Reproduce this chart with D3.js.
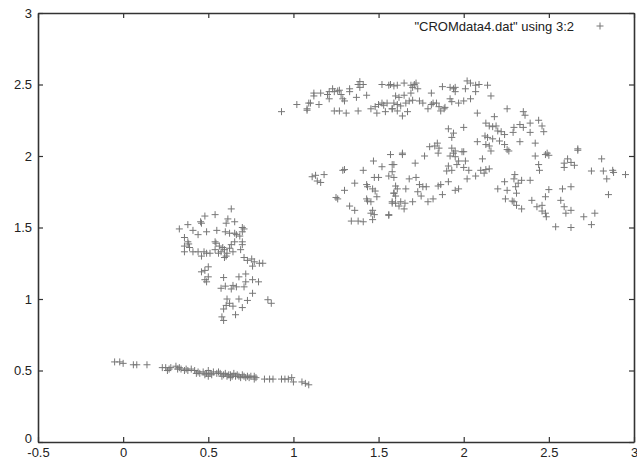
<!DOCTYPE html>
<html>
<head>
<meta charset="utf-8">
<script src="https://cdn.jsdelivr.net/npm/d3@7"></script>
<style>
  body { margin: 0; background: #fff; }
  .chart text { font-family: "Liberation Sans", Arial, sans-serif; font-size: 13px; fill: #222; }
</style>
</head>
<body>
<div class="chart"></div>
<script>
var svgWidth = 637;
var svgHeight = 466;

var seriesLabel = "\"CROMdata4.dat\" using 3:2";
var xTicks = [-0.5, 0, 0.5, 1, 1.5, 2, 2.5, 3];
var yTicks = [0, 0.5, 1, 1.5, 2, 2.5, 3];

// column 3 vs column 2
var bottomStrip = [
  [-0.05,0.56],[-0.02,0.56],[0.0,0.55],[0.06,0.54],[0.08,0.54],[0.14,0.54],
  [0.23,0.52],[0.25,0.52],[0.26,0.50],[0.27,0.51],[0.28,0.52],[0.31,0.53],[0.32,0.51],[0.33,0.52],
  [0.34,0.51],[0.36,0.50],[0.37,0.51],[0.38,0.50],[0.40,0.51],[0.42,0.50],[0.43,0.48],[0.44,0.49],
  [0.45,0.48],[0.47,0.49],[0.48,0.47],[0.49,0.48],[0.50,0.50],[0.50,0.46],[0.51,0.48],[0.52,0.47],
  [0.53,0.49],[0.55,0.48],[0.56,0.49],[0.57,0.48],[0.58,0.46],[0.59,0.47],[0.60,0.48],[0.61,0.46],
  [0.62,0.47],[0.63,0.47],[0.63,0.45],[0.64,0.46],[0.65,0.48],[0.66,0.46],[0.67,0.47],[0.68,0.46],
  [0.69,0.45],[0.70,0.47],[0.71,0.46],[0.72,0.45],[0.73,0.46],[0.74,0.45],[0.75,0.46],[0.77,0.44],
  [0.77,0.46],[0.78,0.45],[0.83,0.44],[0.86,0.44],[0.88,0.44],[0.93,0.44],[0.95,0.44],[0.97,0.44],
  [0.99,0.45],[1.00,0.42],[1.05,0.42],[1.07,0.41],[1.09,0.40]
];

var middleBlob = [
  [0.635,1.63],[0.54,1.59],[0.48,1.58],[0.455,1.54],[0.46,1.53],[0.38,1.52],[0.33,1.49],[0.41,1.48],
  [0.44,1.45],[0.49,1.47],[0.55,1.48],[0.60,1.47],[0.615,1.56],[0.655,1.54],[0.605,1.53],[0.70,1.50],
  [0.70,1.47],[0.71,1.49],[0.625,1.46],[0.655,1.46],[0.665,1.45],[0.685,1.44],[0.70,1.40],[0.70,1.38],
  [0.69,1.345],[0.36,1.43],[0.38,1.40],[0.385,1.385],[0.36,1.33],[0.41,1.33],[0.44,1.33],[0.475,1.33],
  [0.46,1.30],[0.49,1.32],[0.51,1.32],[0.54,1.345],[0.56,1.32],[0.575,1.33],[0.595,1.345],[0.625,1.355],
  [0.635,1.38],[0.655,1.40],[0.645,1.33],[0.61,1.32],[0.595,1.29],[0.605,1.30],[0.54,1.40],[0.545,1.39],
  [0.565,1.37],[0.585,1.36],[0.71,1.29],[0.73,1.27],[0.755,1.28],[0.77,1.26],[0.80,1.25],[0.82,1.25],
  [0.76,1.23],[0.50,1.225],[0.48,1.20],[0.46,1.19],[0.50,1.155],[0.48,1.135],[0.49,1.12],[0.59,1.15],
  [0.575,1.075],[0.60,1.09],[0.635,1.07],[0.645,1.095],[0.665,1.085],[0.68,1.155],[0.72,1.175],[0.72,1.12],
  [0.71,1.085],[0.76,1.135],[0.795,1.12],[0.76,1.04],[0.61,1.00],[0.625,0.97],[0.605,0.955],[0.59,0.93],
  [0.645,0.95],[0.68,1.00],[0.70,0.94],[0.73,0.99],[0.66,0.89],[0.58,0.875],[0.59,0.85],[0.85,0.995],
  [0.87,0.97],[0.36,1.37],[0.39,1.36]
];

var upperArch = [
  [0.93,2.31],[1.02,2.36],[1.08,2.33],[1.08,2.32],[1.09,2.37],[1.10,2.37],[1.15,2.36],[1.12,2.44],
  [1.12,2.42],[1.16,2.44],[1.20,2.43],[1.21,2.45],[1.21,2.40],[1.23,2.47],[1.24,2.45],[1.26,2.455],
  [1.27,2.46],[1.28,2.43],[1.29,2.40],[1.30,2.385],[1.33,2.47],[1.33,2.45],[1.37,2.41],[1.39,2.52],
  [1.38,2.50],[1.39,2.48],[1.41,2.50],[1.43,2.425],[1.38,2.315],[1.24,2.315],[1.27,2.315],[1.31,2.30],
  [1.455,2.33],[1.48,2.345],[1.49,2.30],[1.50,2.36],[1.52,2.37],[1.53,2.355],[1.54,2.31],[1.55,2.37],
  [1.52,2.50],[1.56,2.495],[1.58,2.33],
  [1.57,2.50],[1.59,2.49],[1.61,2.495],[1.65,2.51],[1.69,2.495],[1.70,2.48],[1.71,2.50],[1.72,2.51],
  [1.73,2.47],[1.69,2.44],[1.60,2.42],[1.62,2.41],[1.65,2.425],[1.59,2.37],[1.61,2.36],[1.63,2.35],
  [1.66,2.37],[1.68,2.385],[1.70,2.39],[1.74,2.385],[1.76,2.37],[1.58,2.33],[1.61,2.315],[1.64,2.28],
  [1.67,2.31],[1.79,2.33],[1.81,2.36],[1.82,2.37],[1.84,2.37],[1.855,2.345],[1.865,2.315],[1.885,2.33],
  [1.89,2.34],[1.92,2.40],[1.93,2.38],[1.97,2.37],[2.00,2.385],[2.04,2.40],[1.81,2.44],[1.875,2.485],
  [1.92,2.48],[1.94,2.47],[1.95,2.45],[1.95,2.48],[2.01,2.47],[2.02,2.525],[2.04,2.51],[2.07,2.495],
  [2.09,2.50],[2.07,2.45],[2.14,2.495],[2.16,2.42],[2.08,2.30],[2.18,2.275],[2.255,2.33]
];

var rightSlope = [
  [2.13,2.23],[2.15,2.21],[2.17,2.205],[2.19,2.21],[2.20,2.175],[2.22,2.17],[2.24,2.15],[1.91,2.19],
  [1.94,2.16],[2.00,2.20],[1.93,2.13],[2.125,2.14],[2.14,2.13],[2.17,2.12],[2.21,2.105],[2.08,2.10],
  [2.13,2.08],[2.15,2.07],[2.24,2.08],[2.255,2.045],[1.80,2.065],[1.83,2.07],[1.845,2.09],[1.855,2.055],
  [1.93,2.055],[1.95,2.035],[1.99,2.03],[1.64,2.02],
  [2.35,2.31],[2.36,2.285],[2.295,2.20],[2.29,2.165],[2.33,2.22],[2.35,2.20],[2.39,2.23],[2.44,2.25],
  [2.46,2.21],[2.47,2.17],[2.39,2.165],[2.33,2.10],[2.42,2.09],[2.49,2.02],[2.67,2.05]
];

var lowerBand = [
  [1.11,1.855],[1.13,1.865],[1.14,1.825],[1.16,1.815],[1.18,1.87],[1.29,1.90],[1.30,1.905],[1.41,1.90],
  [1.47,1.965],[1.52,1.925],[1.57,2.01],[1.58,1.94],[1.56,1.86],[1.475,1.85],[1.50,1.85],[1.36,1.81],
  [1.43,1.80],[1.435,1.785],[1.465,1.77],[1.48,1.755],[1.30,1.76],[1.49,1.715],[1.25,1.71],[1.26,1.70],
  [1.43,1.70],[1.435,1.685],[1.455,1.68],[1.33,1.65],[1.36,1.62],[1.465,1.62],[1.455,1.60],[1.475,1.59],
  [1.56,1.585],[1.58,1.67],[1.34,1.545],[1.38,1.545],[1.41,1.54],[1.465,1.555],[1.59,1.74],
  [1.64,2.01],[1.77,2.00],[1.85,2.02],[1.92,2.00],[1.94,2.02],[1.95,1.995],[1.97,1.965],[1.96,1.94],
  [2.00,2.03],[2.01,1.965],[2.00,1.92],[1.91,1.93],[1.93,1.90],[1.90,1.895],[2.03,1.90],[2.11,1.98],
  [2.10,1.90],[2.13,1.905],[2.15,1.91],[2.12,1.88],[2.07,1.86],[2.02,1.84],[1.59,1.94],[1.715,1.95],
  [1.58,1.89],[1.59,1.85],[1.68,1.84],[1.72,1.85],[1.74,1.80],[1.76,1.785],[1.78,1.785],[1.60,1.79],
  [1.61,1.77],[1.66,1.77],[1.59,1.74],[1.60,1.72],[1.73,1.75],[1.75,1.72],[1.85,1.79],[1.865,1.80],
  [1.875,1.73],[1.91,1.82],[1.95,1.76],[1.97,1.77],[1.58,1.68],[1.60,1.67],[1.63,1.68],[1.655,1.67],
  [1.70,1.68],[1.62,1.65],[1.65,1.63],[1.79,1.68],[1.82,1.70],[2.24,1.82],[2.20,1.77],[2.255,1.76],
  [2.245,1.70],[2.285,1.685],[2.16,2.035],[2.265,2.035],[1.56,1.59],
  [2.42,2.00],[2.48,2.01],[2.50,2.005],[2.44,1.94],[2.445,1.90],[2.59,1.95],[2.61,1.98],[2.63,1.955],
  [2.65,1.935],[2.59,1.92],[2.67,2.04],[2.81,1.98],[2.75,1.895],[2.82,1.895],[2.875,1.90],[2.88,1.885],
  [2.95,1.87],[2.84,1.84],[2.85,1.73],[2.30,1.87],[2.295,1.84],[2.32,1.81],[2.34,1.83],[2.39,1.83],
  [2.305,1.785],[2.31,1.74],[2.50,1.765],[2.58,1.77],[2.63,1.785],[2.40,1.69],[2.48,1.715],[2.57,1.69],
  [2.295,1.68],[2.31,1.655],[2.34,1.63],[2.43,1.645],[2.46,1.655],[2.46,1.615],[2.48,1.60],[2.485,1.575],
  [2.59,1.645],[2.63,1.62],[2.60,1.60],[2.705,1.575],[2.77,1.60],[2.75,1.52],[2.54,1.505],[2.63,1.50]
];

var data = [].concat(bottomStrip, middleBlob, upperArch, rightSlope, lowerBand);

var svg = d3.select(".chart")
  .append("svg")
  .attr("width", svgWidth)
  .attr("height", svgHeight);

var xScale = d3.scaleLinear().domain([-0.5, 3]).range([38, 634]);
var yScale = d3.scaleLinear().domain([0, 3]).range([442, 13]);

var fmt = d => String(d);

// gnuplot style: ticks point inward on all four sides, labels only bottom/left
var bottomAxis = d3.axisBottom(xScale).tickValues(xTicks).tickFormat(fmt).tickSizeInner(-5).tickSizeOuter(0).tickPadding(6);
var topAxis = d3.axisTop(xScale).tickValues(xTicks).tickFormat("").tickSizeInner(-5).tickSizeOuter(0);
var leftAxis = d3.axisLeft(yScale).tickValues(yTicks).tickFormat(fmt).tickSizeInner(-5).tickSizeOuter(0).tickPadding(6);
var rightAxis = d3.axisRight(yScale).tickValues(yTicks).tickFormat("").tickSizeInner(-5).tickSizeOuter(0);

function styleAxis(g) {
  g.select(".domain").attr("stroke", "#333").attr("stroke-width", 1.6);
  g.selectAll(".tick line").attr("stroke", "#333").attr("stroke-width", 1.2);
  g.selectAll(".tick text").attr("fill", "#222").style("font-size", "13px")
    .style("font-family", "'Liberation Sans', Arial, sans-serif");
  g.attr("font-size", null).attr("font-family", null);
}

svg.append("g").attr("transform", `translate(0, ${yScale(0)})`).call(bottomAxis).call(styleAxis);
svg.append("g").attr("transform", `translate(0, ${yScale(3)})`).call(topAxis).call(styleAxis);
var yAxisG = svg.append("g").attr("transform", `translate(${xScale(-0.5)}, 0)`).call(leftAxis).call(styleAxis);
svg.append("g").attr("transform", `translate(${xScale(3)}, 0)`).call(rightAxis).call(styleAxis);

// nudge the y "0" up a little so it clears the "-0.5" below it
yAxisG.selectAll(".tick text").filter(d => d === 0).attr("dy", "0.05em");

var plus = "M-3.5,0H3.5M0,-3.5V3.5";

svg.append("g")
  .selectAll("path")
  .data(data)
  .enter()
  .append("path")
  .attr("transform", d => `translate(${xScale(d[0])}, ${yScale(d[1])})`)
  .attr("d", plus)
  .attr("fill", "none")
  .attr("stroke", "#777")
  .attr("stroke-width", 1);

// key, top right
svg.append("text")
  .attr("x", 574)
  .attr("y", 31)
  .attr("text-anchor", "end")
  .text(seriesLabel);

svg.append("path")
  .attr("transform", "translate(600, 26)")
  .attr("d", plus)
  .attr("fill", "none")
  .attr("stroke", "#777")
  .attr("stroke-width", 1);
</script>
</body>
</html>
